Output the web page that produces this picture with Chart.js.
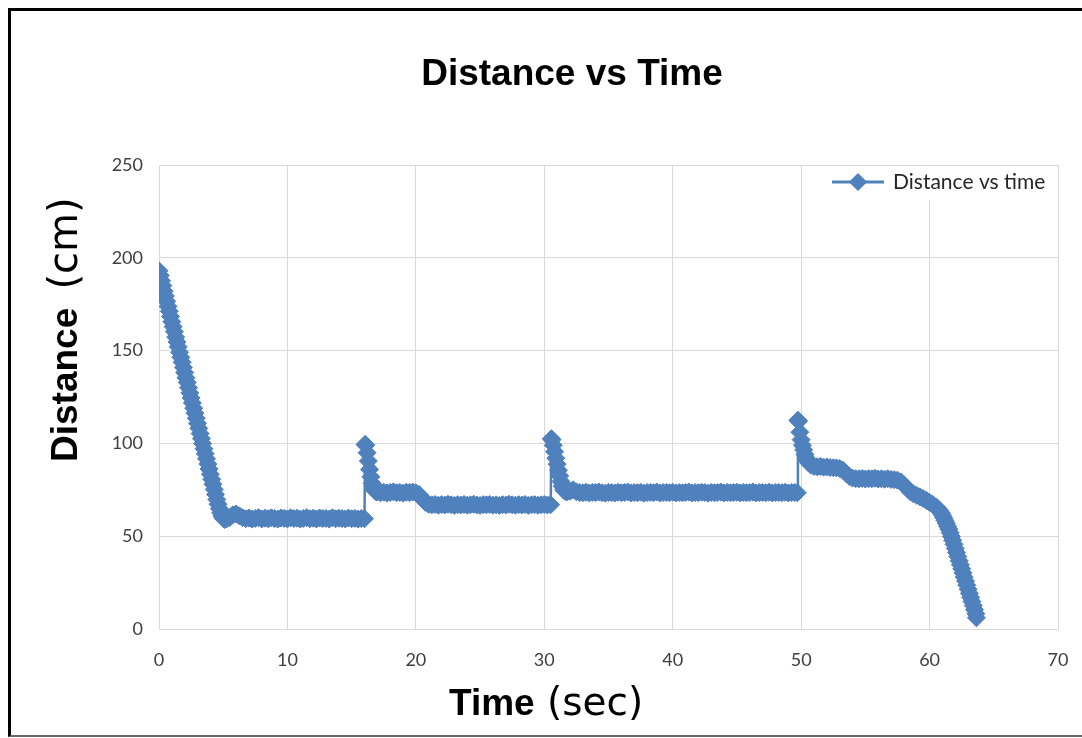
<!DOCTYPE html>
<html>
<head>
<meta charset="utf-8">
<title>Distance vs Time</title>
<script src="https://cdn.jsdelivr.net/npm/chart.js@4.4.1/dist/chart.umd.min.js"></script>
<style>
  html, body { margin: 0; padding: 0; background: #ffffff; }
  #frame {
    position: absolute; left: 8px; top: 8px; width: 1080px; height: 724px;
    border-left: 3px solid #000; border-top: 3px solid #000; border-bottom: 2px solid #6a6a6a;
  }
  #wrap { position: absolute; left: 0; top: 0; width: 1082px; height: 738px; }
</style>
</head>
<body>
<div id="frame"></div>
<div id="wrap"><canvas id="chart" width="1082" height="738"></canvas></div>
<script>
// Sensor readings: elapsed time (s) and measured distance (cm)
const timeSec = [
  0, 0.1, 0.2, 0.3, 0.4, 0.5, 0.6, 0.7, 0.8, 0.9,
  1, 1.1, 1.2, 1.3, 1.4, 1.5, 1.6, 1.7, 1.8, 1.9,
  2, 2.1, 2.2, 2.3, 2.4, 2.5, 2.6, 2.7, 2.8, 2.9,
  3, 3.1, 3.2, 3.3, 3.4, 3.5, 3.6, 3.7, 3.8, 3.9,
  4, 4.1, 4.2, 4.3, 4.4, 4.5, 4.6, 4.7, 4.8, 4.9,
  5, 5.1, 5.25, 5.5, 5.75, 6, 6.25,
  6.5, 6.75, 7, 7.25, 7.5, 7.75, 8, 8.25, 8.5, 8.75,
  9, 9.25, 9.5, 9.75, 10, 10.25, 10.5, 10.75, 11, 11.25,
  11.5, 11.75, 12, 12.25, 12.5, 12.75, 13, 13.25, 13.5, 13.75,
  14, 14.25, 14.5, 14.75, 15, 15.25, 15.5, 15.75, 16,
  16.05, 16.1, 16.2, 16.3, 16.4, 16.5, 16.6, 16.7, 16.8, 16.9, 17,
  17.25, 17.5, 17.75, 18, 18.25, 18.5, 18.75, 19, 19.25, 19.5, 19.75, 20,
  20.25, 20.5, 20.75, 21,
  21.25, 21.5, 21.75, 22, 22.25, 22.5, 22.75, 23, 23.25, 23.5,
  23.75, 24, 24.25, 24.5, 24.75, 25, 25.25, 25.5, 25.75, 26,
  26.25, 26.5, 26.75, 27, 27.25, 27.5, 27.75, 28, 28.25, 28.5,
  28.75, 29, 29.25, 29.5, 29.75, 30, 30.25, 30.5,
  30.55, 30.6, 30.7, 30.8, 30.9, 31, 31.1, 31.2, 31.3, 31.4, 31.5, 31.6, 31.75,
  32, 32.25, 32.5, 32.75,
  33, 33.25, 33.5, 33.75, 34, 34.25, 34.5, 34.75,
  35, 35.25, 35.5, 35.75, 36, 36.25, 36.5, 36.75,
  37, 37.25, 37.5, 37.75, 38, 38.25, 38.5, 38.75,
  39, 39.25, 39.5, 39.75, 40, 40.25, 40.5, 40.75,
  41, 41.25, 41.5, 41.75, 42, 42.25, 42.5, 42.75,
  43, 43.25, 43.5, 43.75, 44, 44.25, 44.5, 44.75,
  45, 45.25, 45.5, 45.75, 46, 46.25, 46.5, 46.75,
  47, 47.25, 47.5, 47.75, 48, 48.25, 48.5, 48.75,
  49, 49.25, 49.5, 49.7,
  49.75, 49.8, 49.9, 50, 50.1, 50.2, 50.3, 50.4, 50.5, 50.6, 50.75, 51,
  51.25, 51.5, 51.75, 52, 52.25, 52.5, 52.75,
  53, 53.25, 53.5, 53.75, 54,
  54.25, 54.5, 54.75, 55, 55.25, 55.5, 55.75, 56, 56.25, 56.5, 56.75, 57, 57.25, 57.5,
  57.75, 58, 58.25, 58.5, 58.75, 59, 59.25, 59.5, 59.75, 60, 60.25, 60.5,
  60.6, 60.7, 60.8, 60.9, 61, 61.1, 61.2, 61.3, 61.4, 61.5,
  61.6, 61.7, 61.8, 61.9, 62, 62.1, 62.2, 62.3, 62.4, 62.5,
  62.6, 62.7, 62.8, 62.9, 63, 63.1, 63.2, 63.3, 63.4, 63.5, 63.6, 63.65
];

const distanceCm = [
  193, 190.5, 187.6, 185, 182, 179.4, 176.6, 173.8, 171.2, 168.4,
  165.6, 162.9, 160.2, 157.3, 154.7, 152, 149.1, 146.4, 143.7, 140.9,
  138.2, 135.4, 132.8, 130, 127.2, 124.5, 121.8, 119, 116.3, 113.6,
  110.8, 108.1, 105.3, 102.6, 99.9, 97.1, 94.4, 91.7, 88.9, 86.2,
  83.4, 80.7, 78, 75.2, 72.5, 69.8, 67.2, 64.8, 62.6, 60.8,
  59.6, 59, 59.2, 60, 61.5, 62, 61,
  60, 59.4, 59.8, 59.2, 59.6, 60, 59.3, 59.7, 59.4, 59.9,
  59.5, 59.2, 59.8, 59.6, 59.3, 59.9, 59.5, 59.7, 59.2, 59.6,
  60, 59.4, 59.7, 59.3, 59.8, 59.5, 59.6, 59.2, 59.9, 59.4,
  59.7, 59.5, 59.3, 59.8, 59.4, 59.6, 59.2, 59.5, 59.4,
  99.5, 99, 95, 90.5, 86, 82, 78.5, 76, 74.6, 74, 73.8,
  73.4, 73.7, 73.3, 73.6, 73.9, 73.4, 73.6, 73.2, 73.7, 73.5, 73.8, 73.4,
  72.5, 70.3, 68.2, 67.2,
  66.9, 67.1, 66.7, 67, 66.8, 67.2, 66.9, 66.6, 67, 66.8,
  67.1, 66.7, 66.9, 67.2, 66.8, 66.6, 67, 66.9, 67.1, 66.7,
  66.9, 66.6, 67, 66.8, 67.2, 66.9, 66.7, 67, 66.8, 67.1,
  66.6, 66.9, 67, 66.7, 66.9, 67.1, 66.8, 67,
  102.5, 102, 99, 95.5, 92, 88.8, 85.5, 82.5, 79.5, 77, 75.2, 74.2, 73.8,
  74.2, 75, 73.9, 73.5,
  73.4, 73.7, 73.3, 73.6, 73.5, 73.8, 73.4, 73.2,
  73.6, 73.5, 73.3, 73.7, 73.4, 73.6, 73.8, 73.3,
  73.5, 73.4, 73.7, 73.2, 73.5, 73.6, 73.4, 73.8,
  73.3, 73.5, 73.6, 73.4, 73.7, 73.3, 73.5, 73.4,
  73.6, 73.8, 73.3, 73.5, 73.4, 73.7, 73.5, 73.2,
  73.6, 73.4, 73.5, 73.8, 73.3, 73.6, 73.4, 73.5,
  73.7, 73.3, 73.6, 73.4, 73.5, 73.8, 73.3, 73.5,
  73.6, 73.4, 73.7, 73.3, 73.5, 73.6, 73.4, 73.7,
  73.3, 73.5, 73.6, 73.4,
  112.5, 112, 106, 102, 99, 96.5, 94, 92, 90.5, 89.4, 88.3, 87.6,
  87.4, 87.6, 87.2, 87.3, 87, 86.9, 86.8,
  86.5, 85.6, 83.8, 82.2, 81.3,
  81, 80.9, 81.1, 80.8, 81, 80.9, 81.2, 80.8, 80.9, 80.7, 81, 80.6, 80.4, 80.2,
  79.3, 77.8, 75.8, 73.9, 72.8, 72, 71.2, 70.3, 69.3, 68.2, 67.1, 65.8,
  65.2, 64.5, 63.6, 62.6, 61.4, 60, 58.5, 57, 55.4, 53.8,
  51.9, 49.9, 47.8, 45.6, 43.4, 41.2, 39, 36.8, 34.6, 32.4,
  30.2, 28, 25.8, 23.6, 21.4, 19.2, 17, 14.8, 12.6, 10.4, 8.2, 6
];

const xTickValues = [0, 10, 20, 30, 40, 50, 60, 70];
const yTickValues = [0, 50, 100, 150, 200, 250];

const chartTitle = 'Distance vs Time';
const seriesName = 'Distance vs time';
const xTitle = ['Time', '(sec)'];
const yTitle = ['Distance', '(cm)'];

const BLUE = '#4f81bd';
const GRID = '#d9d9d9';
const TICK_FONT = { family: 'Lato', size: 18 };
const TICK_COLOR = '#404040';

const points = timeSec.map((t, i) => ({ x: t, y: distanceCm[i] }));

// Axis titles: bold word followed by the unit in a lighter face
const axisTitles = {
  id: 'axisTitles',
  afterDraw(chart) {
    const ctx = chart.ctx;
    ctx.save();
    ctx.fillStyle = '#000';
    ctx.textBaseline = 'alphabetic';
    ctx.textAlign = 'left';

    // horizontal axis
    ctx.font = 'bold 37px "Liberation Sans"';
    const xw = ctx.measureText(xTitle[0] + ' ').width;
    ctx.fillText(xTitle[0], 449, 715);
    ctx.font = '39px "DejaVu Sans"';
    ctx.fillText(xTitle[1], 451 + xw, 715);

    // vertical axis, reading bottom to top
    ctx.translate(77, 462);
    ctx.rotate(-Math.PI / 2);
    ctx.font = 'bold 37px "Liberation Sans"';
    const yw = ctx.measureText(yTitle[0] + ' ').width;
    ctx.fillText(yTitle[0], 0, 0);
    ctx.font = '40px "DejaVu Sans"';
    ctx.fillText(yTitle[1], yw + 8, 0);
    ctx.restore();
  }
};

// Series key placed in the top-right corner of the plot area
const insetLegend = {
  id: 'insetLegend',
  afterDatasetsDraw(chart) {
    const ctx = chart.ctx;
    const area = chart.chartArea;
    const ds = chart.data.datasets[0];
    const right = area.right - 1;
    const top = area.top + 1;
    const left = right - 234;
    ctx.save();
    ctx.fillStyle = '#ffffff';
    ctx.fillRect(left, top, right - left, 34);

    const cy = top + 16;
    ctx.strokeStyle = ds.borderColor;
    ctx.lineWidth = 3;
    ctx.beginPath();
    ctx.moveTo(left + 9, cy);
    ctx.lineTo(left + 61, cy);
    ctx.stroke();
    Chart.helpers.drawPoint(ctx, {
      pointStyle: 'rectRot', radius: 7, borderWidth: 1, rotation: 0
    }, left + 35, cy);
    ctx.fillStyle = ds.backgroundColor;
    ctx.fill();

    ctx.fillStyle = '#262626';
    ctx.font = '21px Lato';
    ctx.textBaseline = 'middle';
    ctx.textAlign = 'left';
    ctx.fillText(ds.label, left + 70, cy);
    ctx.restore();
  }
};

new Chart(document.getElementById('chart'), {
  type: 'scatter',
  data: {
    datasets: [{
      label: seriesName,
      data: points,
      showLine: true,
      borderColor: BLUE,
      backgroundColor: BLUE,
      borderWidth: 2.5,
      pointStyle: 'rectRot',
      pointRadius: 9,
      pointBorderWidth: 1,
      pointBorderColor: BLUE,
      pointBackgroundColor: BLUE,
      tension: 0
    }]
  },
  options: {
    responsive: false,
    animation: false,
    devicePixelRatio: 1,
    layout: { padding: { left: 86, right: 24, top: 23, bottom: 0 } },
    plugins: {
      legend: { display: false },
      tooltip: { enabled: false },
      title: {
        display: true,
        text: chartTitle,
        color: '#000',
        font: { family: 'Liberation Sans', size: 37, weight: 'bold' },
        padding: { top: 30, bottom: 67.6 }
      }
    },
    scales: {
      x: {
        type: 'linear',
        min: 0,
        max: 70,
        afterBuildTicks: s => { s.ticks = xTickValues.map(v => ({ value: v })); },
        afterFit: s => { s.height = 109; },
        // label gap comes from an invisible tick mark, so the end label needs no extra side room
        ticks: { font: TICK_FONT, color: TICK_COLOR, padding: 0, maxRotation: 0 },
        grid: { color: GRID, lineWidth: 1, drawTicks: true, tickLength: 20, tickColor: 'rgba(0,0,0,0)' },
        border: { color: GRID, width: 1 }
      },
      y: {
        type: 'linear',
        min: 0,
        max: 250,
        afterBuildTicks: s => { s.ticks = yTickValues.map(v => ({ value: v })); },
        afterFit: s => { s.width = 73; },
        ticks: { font: TICK_FONT, color: TICK_COLOR, padding: 16 },
        grid: { color: GRID, lineWidth: 1, drawTicks: false },
        border: { color: GRID, width: 1 }
      }
    }
  },
  plugins: [axisTitles, insetLegend]
});
</script>
</body>
</html>
